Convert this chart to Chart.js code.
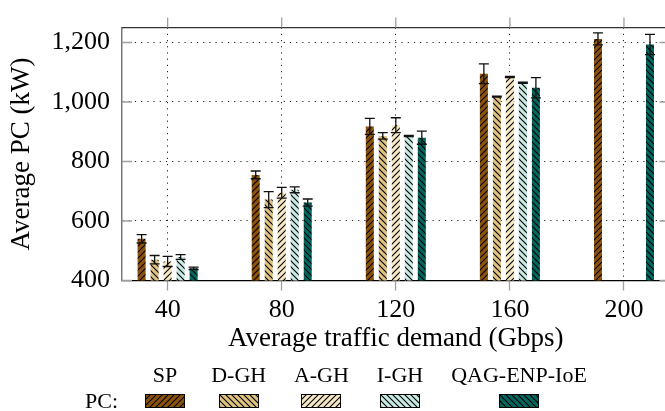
<!DOCTYPE html>
<html><head><meta charset="utf-8">
<script src="https://cdn.jsdelivr.net/npm/chart.js@4"></script>
<style>
html,body{margin:0;padding:0;overflow:hidden;background:#fff;width:665px;height:411px}
#wrap{position:relative;width:665px;height:411px;overflow:hidden}
canvas#c{position:absolute;left:0;top:0}
.lg{position:absolute;font-family:"Liberation Serif",serif;font-size:22px;line-height:22px;color:#000;white-space:nowrap}
.sw{position:absolute}
</style></head><body>
<div id="wrap"><canvas id="c" width="672" height="411" style="width:672px;height:411px"></canvas><div id="legend"></div></div>
<script>
// ---- data ----
const demands = [40, 80, 120, 160, 200];
const yTicks = [400, 600, 800, 1000, 1200];
const seriesNames = ['SP', 'D-GH', 'A-GH', 'I-GH', 'QAG-ENP-IoE'];
const spPC   = [540, 755, 918, 1095, 1212];
const spErr  = [14, 13, 27, 33, 20];
const dghPC  = [470, 672, 886, 1018, null];
const dghErr = [14, 27, 11, 2, null];
const aghPC  = [464, 695, 922, 1084, null];
const aghErr = [17, 18, 25, 2, null];
const ighPC  = [479, 705, 886, 1065, null];
const ighErr = [8, 10, 2, 2, null];
const qagPC  = [441, 662, 880, 1048, 1193];
const qagErr = [4, 12, 22, 34, 34];

// ---- styles ----
const fills = ['#8c510a', '#dfc27d', '#f6e8c3', '#c7eae5', '#01665e'];
const hatchDir = ['/', '\\', '/', '\\', '\\'];
const serif = "'Liberation Serif', serif";

const canvas = document.getElementById('c');
const mainCtx = canvas.getContext('2d');

function hatchTile(color, dir) {
  const s = 6;
  const c = document.createElement('canvas');
  c.width = s; c.height = s;
  const g = c.getContext('2d');
  g.fillStyle = color; g.fillRect(0, 0, s, s);
  g.strokeStyle = '#000'; g.lineWidth = 1.1;
  g.beginPath();
  if (dir === '/') {
    g.moveTo(-1, s + 1); g.lineTo(s + 1, -1);
    g.moveTo(-2, 2); g.lineTo(2, -2);
    g.moveTo(s - 2, s + 2); g.lineTo(s + 2, s - 2);
  } else {
    g.moveTo(-1, -1); g.lineTo(s + 1, s + 1);
    g.moveTo(-2, s - 2); g.lineTo(2, s + 2);
    g.moveTo(s - 2, -2); g.lineTo(s + 2, 2);
  }
  g.stroke();
  return c;
}
function hatch(ctx, color, dir) { return ctx.createPattern(hatchTile(color, dir), 'repeat'); }

const values = [spPC, dghPC, aghPC, ighPC, qagPC];
const errors = [spErr, dghErr, aghErr, ighErr, qagErr];

const errorBars = {
  id: 'errorBars',
  afterDatasetsDraw(chart) {
    const ctx = chart.ctx, ys = chart.scales.y;
    ctx.save();
    ctx.strokeStyle = '#111'; ctx.lineWidth = 1.3;
    chart.data.datasets.forEach((ds, i) => {
      const meta = chart.getDatasetMeta(i);
      ds.data.forEach((v, j) => {
        const e = ds.errors[j];
        if (v == null || e == null) return;
        const x = meta.data[j].x;
        const y1 = ys.getPixelForValue(v + e), y2 = ys.getPixelForValue(v - e);
        ctx.beginPath();
        ctx.moveTo(x, y1); ctx.lineTo(x, y2);
        ctx.moveTo(x - 5, y1); ctx.lineTo(x + 5, y1);
        ctx.moveTo(x - 5, y2); ctx.lineTo(x + 5, y2);
        ctx.stroke();
      });
    });
    ctx.restore();
  }
};

const frame = {
  id: 'frame',
  afterDraw(chart) {
    const ctx = chart.ctx, a = chart.chartArea;
    const xs = chart.scales.x, ys = chart.scales.y;
    ctx.save();
    ctx.strokeStyle = '#333'; ctx.lineWidth = 1.3;
    ctx.beginPath(); ctx.moveTo(a.left, a.top); ctx.lineTo(a.right, a.top);
    ctx.moveTo(a.right, a.top); ctx.lineTo(a.right, a.bottom); ctx.stroke();
    ctx.strokeStyle = '#a0a0a0'; ctx.lineWidth = 1.3;
    ctx.beginPath();
    xs.ticks.forEach(t => {
      const x = xs.getPixelForValue(t.value);
      ctx.moveTo(x, a.top - 10); ctx.lineTo(x, a.top);
    });
    ys.ticks.forEach(t => {
      const y = ys.getPixelForValue(t.value);
      ctx.moveTo(a.left, y); ctx.lineTo(a.left + 10, y);
      ctx.moveTo(a.right - 10, y); ctx.lineTo(a.right, y);
    });
    ctx.stroke();
    ctx.restore();
  }
};

const datasets = seriesNames.map((name, i) => ({
  label: name,
  data: values[i],
  errors: errors[i],
  backgroundColor: hatch(mainCtx, fills[i], hatchDir[i]),
  borderWidth: 0,
  categoryPercentage: 0.57,
  barPercentage: 0.615
}));

new Chart(canvas, {
  type: 'bar',
  data: { labels: demands, datasets },
  options: {
    responsive: false,
    animation: false,
    devicePixelRatio: 1,
    layout: { padding: { left: 0, top: 22.5, right: 2.4, bottom: 56 } },
    plugins: { legend: { display: false }, tooltip: { enabled: false } },
    scales: {
      x: {
        type: 'linear', min: 24, max: 216, offset: false,
        afterBuildTicks: s => { s.ticks = demands.map(v => ({ value: v })); },
        afterFit: s => { s.height = 74.5; },
        ticks: { font: { family: serif, size: 26 }, color: '#000', padding: 4, maxRotation: 0,
                 callback: v => String(v) },
        grid: { offset: false, color: '#222', lineWidth: 1, tickColor: '#a0a0a0', tickLength: 10, tickWidth: 1.3,
                tickBorderDash: [] },
        border: { display: true, color: '#000', width: 1.3, dash: [1.2, 5] },
        title: { display: true, text: 'Average traffic demand (Gbps)', color: '#000',
                 font: { family: serif, size: 27 }, padding: { top: 0, bottom: 0 } }
      },
      y: {
        min: 400, max: 1250,
        afterBuildTicks: s => { s.ticks = yTicks.map(v => ({ value: v })); },
        afterFit: s => { s.width = 122; },
        ticks: { font: { family: serif, size: 26 }, color: '#000', padding: 12,
                 callback: v => Number(v).toLocaleString('en-US') },
        grid: { color: '#222', lineWidth: 1, drawTicks: false },
        border: { display: true, color: '#7a7a7a', width: 1.5, dash: [1.2, 5] },
        title: { display: true, text: 'Average PC (kW)', color: '#000',
                 font: { family: serif, size: 27 }, padding: { top: 5.8, bottom: 0 } }
      }
    }
  },
  plugins: [errorBars, frame]
});

// ---- legend (HTML text + hatched swatches) ----
const legend = document.getElementById('legend');
const lgCenters = [165, 238.7, 321.4, 400, 519];
seriesNames.forEach((name, i) => {
  const sp = document.createElement('span');
  sp.className = 'lg'; sp.textContent = name;
  legend.appendChild(sp);
  const w = sp.getBoundingClientRect().width;
  sp.style.left = (lgCenters[i] - w / 2) + 'px';
  sp.style.top = '363.6px';
  const sw = document.createElement('canvas');
  sw.className = 'sw'; sw.width = 40; sw.height = 14;
  sw.style.left = (lgCenters[i] - 20) + 'px'; sw.style.top = '394px';
  const g = sw.getContext('2d');
  g.fillStyle = g.createPattern(hatchTile(fills[i], hatchDir[i]), 'repeat');
  g.fillRect(0, 0, 40, 14);
  g.strokeStyle = '#000'; g.lineWidth = 1; g.strokeRect(0.5, 0.5, 39, 13);
  legend.appendChild(sw);
});
const pc = document.createElement('span');
pc.className = 'lg'; pc.textContent = 'PC:';
pc.style.left = '85px'; pc.style.top = '389.6px';
legend.appendChild(pc);
</script>
</body></html>
